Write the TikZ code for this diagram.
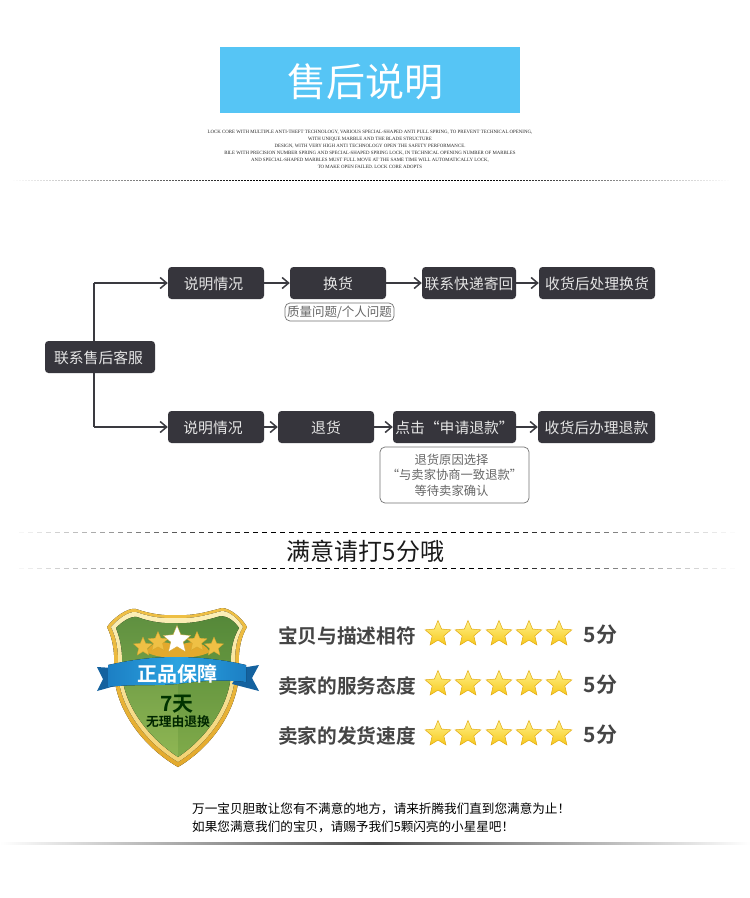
\documentclass[tikz,border=0pt]{standalone}
\usepackage{fontspec}
\setmainfont{Liberation Serif}
\newfontfamily\cjk{Noto Sans CJK SC}
\newfontfamily\cjkbold{Noto Sans CJK SC Bold}
\usetikzlibrary{shapes.geometric,arrows.meta}
\definecolor{skyb}{HTML}{56C5F5}
\definecolor{boxd}{HTML}{36353C}
\definecolor{linec}{HTML}{3A3A40}
\definecolor{rategray}{HTML}{454545}
\definecolor{goldA}{HTML}{F3D272}
\definecolor{goldB}{HTML}{E3A92C}
\definecolor{goldC}{HTML}{FBEFB8}
\definecolor{goldD}{HTML}{EFC045}
\definecolor{shieldA}{HTML}{5F9040}
\definecolor{shieldB}{HTML}{8FB653}
\definecolor{ribA}{HTML}{1C7FC4}
\definecolor{ribB}{HTML}{2BA3E0}
\definecolor{ribT}{HTML}{14629F}
\definecolor{starA}{HTML}{FFF28A}
\definecolor{starB}{HTML}{F6C81C}
\definecolor{starE}{HTML}{E2A90F}
\newcommand{\fadedash}[6]{% y, x0, x1, on, period, width
  \pgfmathsetmacro{\cc}{(#2+#3)/2}
  \pgfmathsetmacro{\hh}{(#3-#2)/2}
  \pgfmathsetmacro{\nxt}{#2+#5}
  \foreach \dx in {#2,\nxt,...,#3}{
    \pgfmathsetmacro{\op}{min(1,1.45*(1-abs(\dx-\cc)/\hh))}
    \draw[black,line width=#6,opacity=\op] (\dx,#1) -- ++(#4,0);
  }
}
\tikzset{
  flow/.style={rectangle,rounded corners=3.5pt,fill=boxd,text=white!90!black,minimum height=32pt,inner sep=0pt,text height=14pt,text depth=1pt,font=\cjk\fontsize{14.8}{16}\selectfont},
  tagbox/.style={rectangle,rounded corners=5pt,draw=black!55,line width=.7pt,fill=white,text=black!60,inner sep=0pt,align=center,font=\cjk\fontsize{12.3}{15.5}\selectfont},
  conn/.style={line width=1.5pt,draw=linec,-{Straight Barb[length=6.5pt,width=11pt,line width=1.5pt]}},
  elbow/.style={line width=1.5pt,draw=linec},
  rate/.style={text=rategray,inner sep=0pt,font=\cjkbold\fontsize{19.7}{21}\selectfont},
  gstar/.style={star,star points=5,star point ratio=2.2,minimum size=27pt,inner sep=0pt,draw=starE,line width=.5pt,top color=starA,bottom color=starB},
  wstar/.style={star,star points=5,star point ratio=2.2,inner sep=0pt,line width=.3pt,draw=brown!70!yellow},
}
\begin{document}
\begin{tikzpicture}[x=1pt,y=-1pt]
\useasboundingbox (0,0) rectangle (750,898);
\fill[white] (0,0) rectangle (750,898);
% header
\fill[skyb] (220,47) rectangle (520,113);
\node[text=white,inner sep=0pt,font=\cjk\fontsize{39}{40}\selectfont] (title) at (365,82) {售后说明};
\node[inner sep=0pt,align=center,text=black!85,font=\fontsize{4.88}{7}\selectfont] (sub) at (370,149) {LOCK CORE WITH MULTIPLE ANTI-THEFT TECHNOLOGY, VARIOUS SPECIAL-SHAPED ANTI PULL SPRING, TO PREVENT TECHNICAL OPENING,\\WITH UNIQUE MARBLE AND THE BLADE STRUCTURE\\DESIGN, WITH VERY HIGH ANTI TECHNOLOGY OPEN THE SAFETY PERFORMANCE.\\BILE WITH PRECISION NUMBER SPRING AND SPECIAL-SHAPED SPRING LOCK, IN TECHNICAL OPENING NUMBER OF MARBLES\\AND SPECIAL-SHAPED MARBLES MUST FULL MOVE AT THE SAME TIME WILL AUTOMATICALLY LOCK,\\TO MAKE OPEN FAILED. LOCK CORE ADOPTS};
\fadedash{180.5}{10}{730}{2}{3}{.6pt}
% flow
\node[flow,minimum width=110pt] (start) at (100,357) {联系售后客服\hspace*{3pt}};
\node[flow,minimum width=96pt] (a1) at (216,283) {说明情况\hspace*{5pt}};
\node[flow,minimum width=96pt] (a2) at (338,283) {换货};
\node[flow,minimum width=94pt,font=\cjk\fontsize{14.8}{16}\selectfont] (a3) at (469,283) {联系快递寄回};
\node[flow,minimum width=116pt] (a4) at (597,283) {收货后处理换货};
\node[tagbox,minimum width=109pt,minimum height=18pt,font=\cjk\fontsize{12.5}{14}\selectfont] (t1) at (339.5,312) {质量问题/个人问题};
\node[flow,minimum width=96pt] (b1) at (216,427) {说明情况\hspace*{6pt}};
\node[flow,minimum width=96pt] (b2) at (326,427) {退货};
\node[flow,minimum width=123pt] (b3) at (454.5,427) {点击“申请退款”};
\node[flow,minimum width=117pt] (b4) at (596.5,427) {收货后办理退款};
\node[tagbox,minimum width=149pt,minimum height=56pt] (t2) at (454.5,475) {退货原因选择\hspace*{6pt}\\“与卖家协商一致退款”\hspace*{6pt}\\等待卖家确认\hspace*{6pt}};
\coordinate (up) at (94,283);
\coordinate (down) at (94,427);
\draw[elbow] (94,341) -- (up);
\draw[elbow] (94,373) -- (down);
\draw[conn] (up) -- (a1);
\draw[conn] (down) -- (b1);
\draw[conn] (a1) -- (a2);
\draw[conn] (a2) -- (a3);
\draw[conn] (a3) -- (a4);
\draw[conn] (b1) -- (b2);
\draw[conn] (b2) -- (b3);
\draw[conn] (b3) -- (b4);
% heading
\fadedash{532.5}{10}{735}{5}{9}{.9pt}
\fadedash{568.5}{10}{735}{5}{9}{.9pt}
\node[text=black!90,inner sep=0pt,font=\cjk\fontsize{24}{25}\selectfont] (head) at (365.5,551.5) {满意请打5分哦};
% badge
\fill[top color=goldD,bottom color=goldB] (107,627) .. controls (113,618) and (128,607) .. (136,609) .. controls (150,614) and (165,616) .. (177,615) .. controls (195,616) and (210,611) .. (222,608) .. controls (230,608) and (242,618) .. (247,627) .. controls (241,637) and (238,650) .. (239,668) .. controls (240,705) and (215,745) .. (178,767) .. controls (140,745) and (113,705) .. (114,668) .. controls (115,650) and (112,637) .. (107,627) -- cycle;
\fill[top color=goldC,bottom color=goldA] (111,627) .. controls (117,620) and (128,611) .. (136,612) .. controls (150,617) and (165,619) .. (177,618) .. controls (195,619) and (210,614) .. (222,611) .. controls (230,611) and (239,620) .. (243,627) .. controls (237,637) and (234,650) .. (235.5,668) .. controls (236,703) and (212,741) .. (178,762) .. controls (143,741) and (117,703) .. (118,668) .. controls (119,650) and (116,637) .. (111,627) -- cycle;
\fill[top color=shieldA,bottom color=shieldB] (116,628) .. controls (122,622) and (130,616) .. (137,617) .. controls (150,622) and (165,624) .. (177,623) .. controls (195,624) and (210,619) .. (221,616) .. controls (228,616) and (235,622) .. (239,628) .. controls (233,638) and (230,650) .. (231,668) .. controls (232,701) and (209,736) .. (178,757) .. controls (146,736) and (121,701) .. (122,668) .. controls (123,650) and (120,638) .. (116,628) -- cycle;
\fill[green!30!black,opacity=.10] (178,623) .. controls (195,624) and (210,619) .. (221,616) .. controls (228,616) and (235,622) .. (239,628) .. controls (233,638) and (230,650) .. (231,668) .. controls (232,701) and (209,736) .. (178,757) -- cycle;
% crown
\fill[goldB] (146,652) .. controls (152,640) and (167,640) .. (177,647) .. controls (188,640) and (203,640) .. (210,652) .. controls (195,660) and (160,660) .. (146,652) -- cycle;
\node[wstar,minimum size=20pt,fill=goldD] (s1) at (143,647) {};
\node[wstar,minimum size=21pt,fill=goldD] (s2) at (158,642) {};
\node[wstar,minimum size=21pt,fill=goldD] (s4) at (197,642) {};
\node[wstar,minimum size=20pt,fill=goldD] (s5) at (214,647) {};
\node[wstar,minimum size=29pt,fill=white] (s3) at (177,640) {};
% ribbon
\fill[ribT] (113,668) -- (97,667) -- (103,679) -- (97,691) -- (122,684) -- cycle;
\fill[ribT] (241,668) -- (259,665) -- (252,678) -- (259,691) -- (232,684) -- cycle;
\fill[left color=ribA,right color=ribA,middle color=ribB] (108,665) .. controls (135,659) and (155,657) .. (177,657) .. controls (200,657) and (225,660) .. (246,665) -- (246,682) .. controls (220,679) and (200,681) .. (177,684) .. controls (155,686) and (130,684) .. (108,687) -- cycle;
\node[text=white,inner sep=0pt,font=\cjkbold\fontsize{20}{21}\selectfont] (zp) at (177.5,673.5) {正品保障};
\node[text=black!80!green,inner sep=0pt,font=\cjkbold\fontsize{21}{22}\selectfont] (qt) at (177,704) {7天};
\node[text=black!85!green,inner sep=0pt,font=\cjkbold\fontsize{12.8}{14}\selectfont] (wl) at (178,722) {无理由退换};
% ratings
\foreach \yy/\ll [count=\i] in {634/宝贝与描述相符,684/卖家的服务态度,734/卖家的发货速度}{
  \node[rate] (label\i) at (347,\yy+1.5) {\ll};
  \foreach \xx [count=\j] in {438,468,499,529,559}{
    \node[gstar] (st\i\j) at (\xx,\yy) {};
  }
  \node[rate,font=\cjkbold\fontsize{21}{22}\selectfont] (score\i) at (600.5,\yy+1) {5分};
}
% footer
\node[anchor=west,inner sep=0pt,font=\cjk\fontsize{12.6}{14}\selectfont] (f1) at (192,809) {万一宝贝胆敢让您有不满意的地方，请来折腾我们直到您满意为止！};
\node[anchor=west,inner sep=0pt,font=\cjk\fontsize{12.6}{14}\selectfont] (f2) at (192,827) {如果您满意我们的宝贝，请赐予我们5颗闪亮的小星星吧！};
\fill[left color=white,right color=white,middle color=black!70] (0,842.5) rectangle (750,844.5);
\end{tikzpicture}
\end{document}
